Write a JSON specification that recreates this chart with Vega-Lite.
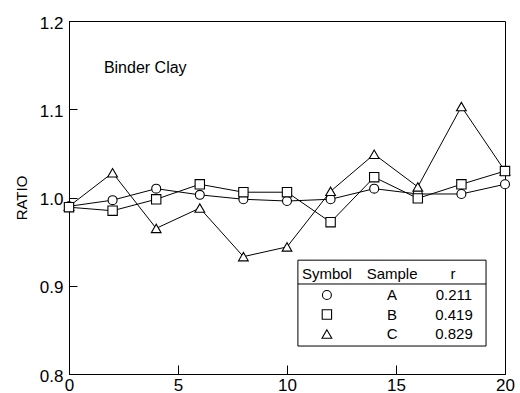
{
  "$schema": "https://vega.github.io/schema/vega-lite/v6.json",
  "width": 436,
  "height": 353,
  "autosize": "none",
  "padding": {"left": 69, "top": 21, "right": 15, "bottom": 19},
  "background": "white",
  "config": {
    "font": "Liberation Sans",
    "view": {"stroke": "black", "strokeWidth": 1},
    "axis": {"grid": false, "ticks": true, "zindex": 1, "domainColor": "black", "tickColor": "black", "tickWidth": 1, "labelColor": "black", "titleColor": "black", "labelFont": "Liberation Sans", "titleFont": "Liberation Sans"}
  },
  "datasets": {
    "ratios": [
      {"x": 0, "Sample": "A", "ratio": 0.990}, {"x": 2, "Sample": "A", "ratio": 0.997}, {"x": 4, "Sample": "A", "ratio": 1.010},
      {"x": 6, "Sample": "A", "ratio": 1.003}, {"x": 8, "Sample": "A", "ratio": 0.998}, {"x": 10, "Sample": "A", "ratio": 0.996},
      {"x": 12, "Sample": "A", "ratio": 0.998}, {"x": 14, "Sample": "A", "ratio": 1.010}, {"x": 16, "Sample": "A", "ratio": 1.004},
      {"x": 18, "Sample": "A", "ratio": 1.004}, {"x": 20, "Sample": "A", "ratio": 1.015},
      {"x": 0, "Sample": "C", "ratio": 0.990}, {"x": 2, "Sample": "C", "ratio": 1.028}, {"x": 4, "Sample": "C", "ratio": 0.965},
      {"x": 6, "Sample": "C", "ratio": 0.988}, {"x": 8, "Sample": "C", "ratio": 0.933}, {"x": 10, "Sample": "C", "ratio": 0.944},
      {"x": 12, "Sample": "C", "ratio": 1.007}, {"x": 14, "Sample": "C", "ratio": 1.049}, {"x": 16, "Sample": "C", "ratio": 1.012},
      {"x": 18, "Sample": "C", "ratio": 1.103}, {"x": 20, "Sample": "C", "ratio": 1.030},
      {"x": 0, "Sample": "B", "ratio": 0.989}, {"x": 2, "Sample": "B", "ratio": 0.985}, {"x": 4, "Sample": "B", "ratio": 0.998},
      {"x": 6, "Sample": "B", "ratio": 1.015}, {"x": 8, "Sample": "B", "ratio": 1.006}, {"x": 10, "Sample": "B", "ratio": 1.006},
      {"x": 12, "Sample": "B", "ratio": 0.972}, {"x": 14, "Sample": "B", "ratio": 1.023}, {"x": 16, "Sample": "B", "ratio": 0.999},
      {"x": 18, "Sample": "B", "ratio": 1.015}, {"x": 20, "Sample": "B", "ratio": 1.030}
    ],
    "table": [
      {"Sample": "A", "r": "0.211"},
      {"Sample": "B", "r": "0.419"},
      {"Sample": "C", "r": "0.829"}
    ],
    "note": [{"label": "Binder Clay"}]
  },
  "layer": [
    {
      "layer": [
        {
          "data": {"name": "ratios"},
          "mark": {"type": "line", "color": "black", "strokeWidth": 1},
          "encoding": {
            "x": {
              "field": "x", "type": "quantitative",
              "scale": {"domain": [0, 20], "nice": false, "zero": false},
              "axis": {"values": [0, 5, 10, 15, 20], "title": null, "tickSize": -9, "labelPadding": 12, "labelFontSize": 17, "labelFlush": false}
            },
            "y": {
              "field": "ratio", "type": "quantitative",
              "scale": {"domain": [0.8, 1.2], "nice": false, "zero": false},
              "axis": {"values": [0.8, 0.9, 1.0, 1.1, 1.2], "format": ".1f", "title": "RATIO", "titleFontSize": 15, "titleFontWeight": "normal", "titlePadding": 10, "tickSize": -8, "labelPadding": 14, "labelFontSize": 17, "labelFlush": false, "labelOffset": 2}
            },
            "detail": {"field": "Sample"}
          }
        },
        {
          "data": {"name": "note"},
          "mark": {"type": "rect", "fill": "white", "stroke": "black", "strokeWidth": 1},
          "encoding": {
            "x": {"datum": 10.5, "type": "quantitative"}, "x2": {"datum": 19.13},
            "y": {"datum": 0.929, "type": "quantitative"}, "y2": {"datum": 0.8317}
          }
        },
        {
          "data": {"name": "note"},
          "mark": {"type": "rule", "color": "black", "strokeWidth": 1},
          "encoding": {"x": {"datum": 10.5, "type": "quantitative"}, "x2": {"datum": 19.13}, "y": {"datum": 0.902, "type": "quantitative"}}
        },
        {
          "data": {"name": "note"},
          "mark": {"type": "text", "fontSize": 16, "baseline": "middle", "align": "left", "color": "black"},
          "encoding": {"x": {"datum": 1.6, "type": "quantitative"}, "y": {"datum": 1.147, "type": "quantitative"}, "text": {"field": "label"}}
        },
        {
          "data": {"name": "note"},
          "mark": {"type": "text", "fontSize": 15, "baseline": "middle", "align": "center", "color": "black"},
          "encoding": {"x": {"datum": 11.83, "type": "quantitative"}, "y": {"datum": 0.9133, "type": "quantitative"}, "text": {"value": "Symbol"}}
        },
        {
          "data": {"name": "note"},
          "mark": {"type": "text", "fontSize": 15, "baseline": "middle", "align": "center", "color": "black"},
          "encoding": {"x": {"datum": 14.82, "type": "quantitative"}, "y": {"datum": 0.9133, "type": "quantitative"}, "text": {"value": "Sample"}}
        },
        {
          "data": {"name": "note"},
          "mark": {"type": "text", "fontSize": 15, "baseline": "middle", "align": "center", "color": "black"},
          "encoding": {"x": {"datum": 17.61, "type": "quantitative"}, "y": {"datum": 0.9133, "type": "quantitative"}, "text": {"value": "r"}}
        },
        {
          "data": {"name": "ratios"},
          "mark": {"type": "point", "filled": true, "fill": "white", "stroke": "black", "strokeWidth": 1.1, "opacity": 1},
          "encoding": {
            "x": {"field": "x", "type": "quantitative"},
            "y": {"field": "ratio", "type": "quantitative"},
            "shape": {"field": "Sample", "type": "nominal", "scale": {"domain": ["A", "B", "C"], "range": ["circle", "square", "triangle-up"]}, "legend": null},
            "size": {"field": "Sample", "type": "nominal", "scale": {"domain": ["A", "B", "C"], "range": [80, 95, 140]}, "legend": null}
          }
        }
      ]
    },
    {
      "data": {"name": "table"},
      "encoding": {
        "y": {
          "field": "Sample", "type": "nominal",
          "scale": {"type": "point", "domain": ["A", "B", "C"], "range": [274, 313], "padding": 0},
          "axis": null
        }
      },
      "layer": [
        {
          "mark": {"type": "point", "filled": true, "fill": "white", "stroke": "black", "strokeWidth": 1.1, "opacity": 1},
          "encoding": {
            "x": {"datum": 11.83, "type": "quantitative"},
            "shape": {"field": "Sample", "type": "nominal", "scale": {"domain": ["A", "B", "C"], "range": ["circle", "square", "triangle-up"]}, "legend": null},
            "size": {"field": "Sample", "type": "nominal", "scale": {"domain": ["A", "B", "C"], "range": [80, 95, 140]}, "legend": null}
          }
        },
        {
          "mark": {"type": "text", "fontSize": 15, "baseline": "middle", "align": "center", "color": "black"},
          "encoding": {"x": {"datum": 14.82, "type": "quantitative"}, "text": {"field": "Sample"}}
        },
        {
          "mark": {"type": "text", "fontSize": 15, "baseline": "middle", "align": "center", "color": "black"},
          "encoding": {"x": {"datum": 17.66, "type": "quantitative"}, "text": {"field": "r"}}
        }
      ]
    }
  ],
  "resolve": {"scale": {"y": "independent"}}
}
